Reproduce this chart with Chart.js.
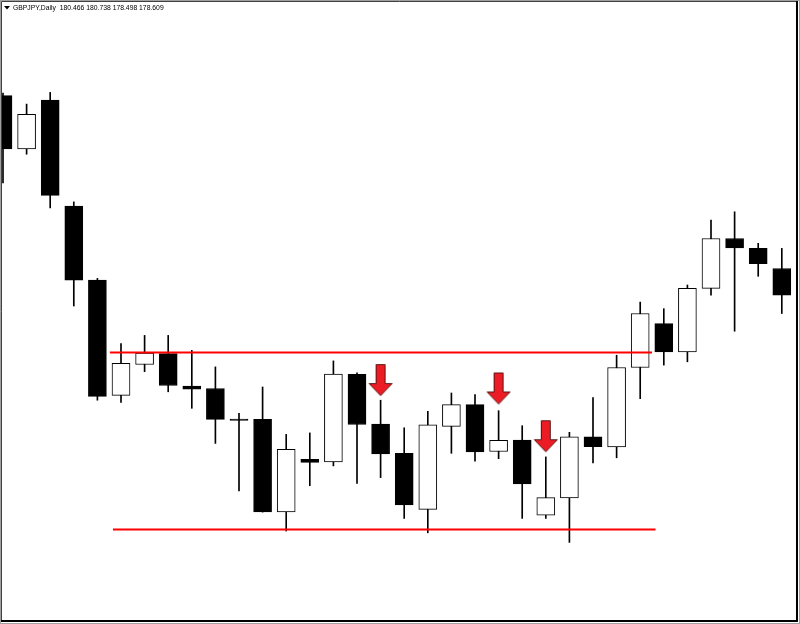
<!DOCTYPE html>
<html>
<head>
<meta charset="utf-8">
<title>GBPJPY Daily</title>
<script src="https://cdn.jsdelivr.net/npm/chart.js@4.4.1/dist/chart.umd.min.js"></script>
<style>
    html, body { margin: 0; padding: 0; background: #fff; }
    canvas { display: block; }
</style>
</head>
<body>
<canvas id="price-chart" width="800" height="624"></canvas>
<script>
// ================================================
// GBPJPY DAILY - CANDLES WITH RANGE LINES
// ================================================

const symbolTitle = 'GBPJPY,Daily  180.466 180.738 178.498 178.609';

// Daily bars, oldest first
const opens  = [185.82, 184.05, 185.67, 182.14, 179.67, 175.83, 176.86, 177.22, 176.14, 176.06,
                175.04, 175.03, 171.95, 173.70, 173.61, 176.53, 174.87, 173.90, 172.03, 174.80,
                175.52, 173.96, 174.34, 171.84, 172.41, 174.45, 174.11, 176.76, 178.22, 177.28,
                179.40, 181.06, 180.73, 180.06];
const highs  = [185.91, 185.54, 185.93, 182.28, 179.73, 177.56, 177.83, 177.83, 177.33, 176.78,
                175.23, 176.11, 174.53, 174.58, 176.98, 176.58, 175.67, 174.75, 175.30, 175.91,
                175.86, 175.32, 174.82, 173.78, 174.60, 175.76, 177.17, 178.94, 178.72, 179.51,
                181.67, 181.95, 180.90, 180.73];
const lows   = [182.91, 183.87, 182.08, 178.81, 175.67, 175.60, 176.62, 175.95, 175.40, 174.23,
                172.65, 171.94, 171.31, 172.82, 173.48, 172.90, 173.09, 171.73, 171.25, 173.90,
                173.64, 173.72, 171.73, 171.73, 170.93, 173.58, 173.75, 175.72, 176.84, 176.95,
                179.17, 177.97, 179.80, 178.56];
const closes = [184.05, 185.20, 182.50, 179.67, 175.80, 176.90, 177.24, 176.16, 176.04, 175.03,
                175.00, 171.95, 174.03, 173.60, 176.54, 174.86, 173.88, 172.18, 174.85, 175.52,
                173.95, 174.33, 172.88, 172.42, 174.45, 174.12, 176.76, 178.56, 177.28, 179.40,
                181.06, 180.75, 180.22, 179.17];

// Red range lines (resistance / support)
const resistanceLevel = 177.26;
const resistanceFrom = 4.53;
const resistanceTo = 27.50;
const supportLevel = 171.36;
const supportFrom = 4.66;
const supportTo = 27.65;

// Down arrows marking rejected candles
const arrowBars = [16, 21, 23];
const arrowLevels = [176.34, 176.06, 174.47];

/**
 * BUILD ARROW MARKER
 */
function makeArrow() {
    const c = document.createElement('canvas');
    c.width = 26;
    c.height = 34;
    const g = c.getContext('2d');
    g.beginPath();
    g.moveTo(8.5, 1.5);
    g.lineTo(17.5, 1.5);
    g.lineTo(17.5, 20.5);
    g.lineTo(24.5, 20.5);
    g.lineTo(13, 32.5);
    g.lineTo(1.5, 20.5);
    g.lineTo(8.5, 20.5);
    g.closePath();
    g.fillStyle = '#ec1c24';
    g.fill();
    g.lineWidth = 1;
    g.strokeStyle = '#5c1010';
    g.stroke();
    return c;
}

/**
 * FRAME + HEADER TEXT
 */
const terminalFrame = {
    id: 'terminalFrame',
    afterDraw(chart) {
        const ctx = chart.ctx;
        const w = chart.width;
        const h = chart.height;
        ctx.save();

        // frame
        ctx.strokeStyle = '#a0a0a0';
        ctx.lineWidth = 1;
        ctx.strokeRect(0.5, 0.5, w - 1, h - 1);
        ctx.strokeStyle = '#404040';
        ctx.beginPath();
        ctx.moveTo(1.5, h - 2);
        ctx.lineTo(1.5, 1.5);
        ctx.lineTo(w - 3, 1.5);
        ctx.stroke();
        ctx.strokeStyle = '#000';
        ctx.lineWidth = 2;
        ctx.beginPath();
        ctx.moveTo(w - 3, 1);
        ctx.lineTo(w - 3, h - 3);
        ctx.lineTo(1, h - 3);
        ctx.stroke();

        // header
        ctx.fillStyle = '#000';
        ctx.beginPath();
        ctx.moveTo(4, 6);
        ctx.lineTo(10, 6);
        ctx.lineTo(7, 9.5);
        ctx.closePath();
        ctx.fill();
        ctx.font = '6.8px "Liberation Sans", Arial, sans-serif';
        ctx.textBaseline = 'alphabetic';
        ctx.fillText(symbolTitle, 13, 10);
        ctx.restore();
    }
};

function initChart() {
    const bars = opens.map((o, i) => i);
    const bodyData = bars.map(i => ({ x: i, y: [opens[i], closes[i]] }));
    const wickData = bars.map(i => ({ x: i, y: [lows[i], highs[i]] }));
    const bodyFill = bars.map(i => closes[i] < opens[i] ? '#000000' : '#ffffff');

    const ctx = document.getElementById('price-chart').getContext('2d');

    new Chart(ctx, {
        type: 'bar',
        data: {
            datasets: [
                {
                    label: 'Arrows',
                    type: 'line',
                    data: arrowBars.map((b, i) => ({ x: b, y: arrowLevels[i] })),
                    showLine: false,
                    pointStyle: makeArrow(),
                    pointRadius: 10,
                    order: 0
                },
                {
                    label: 'Resistance',
                    type: 'line',
                    data: [{ x: resistanceFrom, y: resistanceLevel }, { x: resistanceTo, y: resistanceLevel }],
                    borderColor: '#ff0000',
                    borderWidth: 2,
                    pointRadius: 0,
                    order: 1
                },
                {
                    label: 'Support',
                    type: 'line',
                    data: [{ x: supportFrom, y: supportLevel }, { x: supportTo, y: supportLevel }],
                    borderColor: '#ff0000',
                    borderWidth: 2,
                    pointRadius: 0,
                    order: 1
                },
                {
                    label: 'Body',
                    data: bodyData,
                    backgroundColor: bodyFill,
                    borderColor: '#000000',
                    borderWidth: 1,
                    borderSkipped: false,
                    barThickness: 18,
                    grouped: false,
                    order: 2
                },
                {
                    label: 'Wick',
                    data: wickData,
                    backgroundColor: '#000000',
                    borderWidth: 0,
                    barThickness: 1,
                    grouped: false,
                    order: 3
                }
            ]
        },
        options: {
            responsive: false,
            animation: false,
            layout: { padding: 0, autoPadding: false },
            plugins: {
                legend: { display: false },
                tooltip: { enabled: false }
            },
            scales: {
                x: {
                    type: 'linear',
                    display: false,
                    offset: false,
                    min: -0.127,
                    max: 33.771
                },
                y: {
                    type: 'linear',
                    display: false,
                    min: 168.21,
                    max: 189.01
                }
            }
        },
        plugins: [terminalFrame]
    });
}

initChart();
</script>
</body>
</html>
